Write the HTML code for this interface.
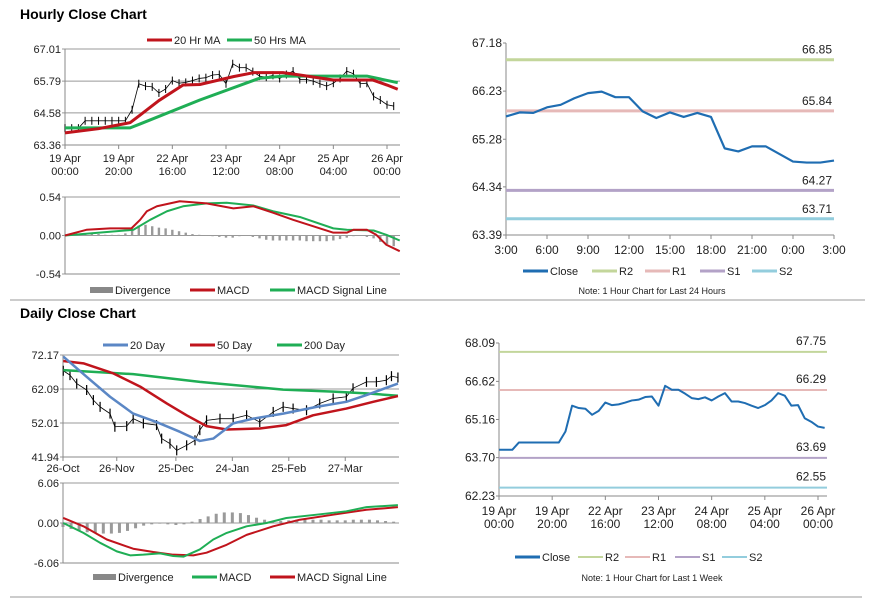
<!DOCTYPE html>
<html><head><meta charset="utf-8"><style>
html,body{margin:0;padding:0;background:#fff;}
svg{display:block;font-family:"Liberation Sans",Arial,sans-serif;}
</style></head><body>
<svg id="s" width="873" height="601" viewBox="0 0 873 601" xmlns="http://www.w3.org/2000/svg">
<text x="20" y="19" font-size="14" font-weight="bold" fill="#000">Hourly Close Chart</text>
<text x="20" y="318" font-size="14" font-weight="bold" fill="#000">Daily Close Chart</text>
<line x1="10" y1="300" x2="865" y2="300" stroke="#999" stroke-width="1"/>
<line x1="10" y1="597" x2="862" y2="597" stroke="#999" stroke-width="1"/>
<g id="root"></g>
</svg>
<script>
// ---------- DATA ----------
// hourly close (sample index, 2.5h steps), shared by hourly bar chart and week chart
const weekClose = [64.00,64.00,64.00,64.28,64.28,64.28,64.28,64.28,64.28,64.28,64.70,65.69,65.60,65.57,65.34,65.49,65.81,65.71,65.74,65.81,65.89,65.92,66.02,66.04,65.69,66.45,66.30,66.30,66.15,65.98,65.94,66.01,65.89,66.04,66.17,65.85,65.85,65.79,65.69,65.60,65.71,65.89,66.17,66.07,65.69,65.71,65.21,65.07,64.89,64.84];
const weekLabels = [["19 Apr","00:00"],["19 Apr","20:00"],["22 Apr","16:00"],["23 Apr","12:00"],["24 Apr","08:00"],["25 Apr","04:00"],["26 Apr","00:00"]];
const weekLabelIdx = [0,8,16,24,32,40,48];
const ma20X = [0,5,9.7,11.2,14,17.6,20.1,25.1,28.1,32.5,35,40,45.9,48,49.6];
const ma20V = [63.82,63.98,64.21,64.50,65.05,65.64,65.66,65.96,66.11,66.11,66.02,65.83,65.83,65.64,65.48];
const ma50X = [0,9.7,11.2,20.1,29,32.5,45,49.6];
const ma50V = [64.01,64.01,64.16,65.07,65.90,65.98,65.98,65.73];
const hTicks = ["63.36","64.58","65.79","67.01"];
const hMacdX = [0,3.2,6.7,9.9,11.2,12.2,13.7,17.1,21.1,25.1,28.1,31,34,40,42,43,45,46.4,47.9,49.9];
const hMacdV = [0,0.08,0.10,0.10,0.22,0.34,0.41,0.48,0.45,0.38,0.41,0.32,0.22,0.04,0.04,0.08,0.08,0.01,-0.13,-0.22];
const hSigX = [0,10.2,12.7,15.2,17.6,21.1,24.1,28.1,31,35,40,42,46,47.9,49.9];
const hSigV = [0,0.08,0.22,0.34,0.41,0.45,0.46,0.42,0.34,0.26,0.10,0.08,0.07,0.01,-0.07];
const hDiv = [0.01,0.01,0.02,0.02,0.02,0.02,0.01,0.01,0.01,0.03,0.10,0.14,0.15,0.13,0.11,0.10,0.08,0.06,0.04,0.02,0.01,0,-0.01,-0.02,-0.03,-0.03,-0.01,0,-0.02,-0.04,-0.06,-0.07,-0.07,-0.07,-0.07,-0.07,-0.08,-0.08,-0.08,-0.08,-0.07,-0.05,-0.03,-0.01,0,-0.02,-0.04,-0.09,-0.12,-0.15];
const hMacdTicks = ["-0.54","0.00","0.54"];
// 24h chart
const dayClose = [65.73,65.81,65.80,65.91,65.96,66.09,66.19,66.22,66.11,66.11,65.83,65.70,65.81,65.72,65.80,65.72,65.10,65.04,65.14,65.14,64.99,64.84,64.82,64.82,64.86];
const dayLabels = ["3:00","6:00","9:00","12:00","15:00","18:00","21:00","0:00","3:00"];
const dayLevels = [66.85,65.84,64.27,63.71];
const dayTicks = ["63.39","64.34","65.28","66.23","67.18"];
const weekLevels = [67.75,66.29,63.69,62.55];
const weekTicks = ["62.23","63.70","65.16","66.62","68.09"];
// daily chart
const dX = [0.1,2.6,5.1,8.8,11.3,13.8,17.5,19.3,23.7,26.1,29.9,34.8,36.7,39.8,42.3,46,49.1,50.9,53.4,58.4,63.3,68.3,73.2,78.2,81.9,85.6,90.6,95.5,100.5,105.4,107.9,112.9,116.6,120.3,122.2,124.6];
const dClose = [67.5,66.2,63.7,61.8,58.8,56.8,54.8,50.9,51.1,53.3,51.9,51.4,47.4,45.9,43.9,45.4,46.9,49.9,52.8,53.3,53.3,54.3,52.3,55.3,56.8,56.3,55.8,57.8,59.3,59.8,62.3,64.2,64.2,64.7,65.9,65.5];
const d20X = [0.1,8.8,17.5,26.1,34.8,43.5,50.9,55.9,63.3,70.7,81.9,94.3,105.4,112.9,124.6];
const d20V = [71.7,65.7,59.8,54.8,52.3,49.4,46.7,47.4,51.9,53.3,54.8,56.8,58.3,60.3,63.7];
const d50X = [0.1,7.6,18.8,28.7,38.6,46,53.4,60.9,73.2,83.1,93,105.4,115.4,124.6];
const d50V = [70.4,69.7,66.7,62.8,57.8,54.3,51.1,50.1,50.4,51.4,54.3,56.3,58.3,60.0];
const d200X = [0.1,26.1,50.9,81.9,100.5,112.9,124.6];
const d200V = [67.7,66.5,64.2,61.9,61.3,60.8,60.1];
const dLabels = ["26-Oct","26-Nov","25-Dec","24-Jan","25-Feb","27-Mar"];
const dLabelIdx = [0,20,42,63,84,105];
const dTicks = ["41.94","52.01","62.09","72.17"];
const dMacdX = [0.1,7.6,13.8,20,25,29.9,36.1,41,44.8,50.9,55.9,60.9,68.3,75.7,83.1,94.3,105.4,112.9,124.6];
const dMacdV = [0,-1.5,-3.0,-4.3,-4.9,-4.8,-4.6,-5.0,-5.1,-4.0,-2.5,-1.5,-0.5,0,0.76,1.26,1.77,2.4,2.7];
const dSigX = [0.1,7.6,16.3,26.1,33.6,41,48.5,53.4,60.9,68.3,78.2,88.1,100.5,112.9,124.6];
const dSigV = [0.76,-0.5,-2.5,-3.9,-4.4,-4.8,-4.9,-4.5,-3.3,-1.8,-0.5,0.5,1.26,2.0,2.4];
const dDiv = [-0.6,-0.9,-1.2,-1.4,-1.5,-1.6,-1.6,-1.5,-1.2,-0.8,-0.4,-0.2,-0.1,-0.2,-0.3,-0.2,0.2,0.6,1.0,1.4,1.6,1.6,1.5,1.2,0.8,0.5,0.3,0.3,0.4,0.5,0.5,0.5,0.5,0.4,0.4,0.4,0.5,0.5,0.5,0.4,0.3,0.2];
const dMacdTicks = ["-6.06","0.00","6.06"];

// ---------- DRAW ----------
const NS="http://www.w3.org/2000/svg";
const root=document.getElementById('root');
function mk(tag,attrs,parent){const e=document.createElementNS(NS,tag);for(const k in attrs)e.setAttribute(k,attrs[k]);(parent||root).appendChild(e);return e;}
function lin(d0,d1,r0,r1){return v=>r0+(v-d0)/(d1-d0)*(r1-r0);}
function txt(x,y,s,anchor,size,name){const t=mk('text',{x:x,y:y,'font-size':size||11,'text-anchor':anchor||'middle',fill:'#222'});t.textContent=s;return t;}
function poly(xs,vs,X,Y,color,w,name){const p=mk('polyline',{points:xs.map((x,i)=>X(x)+','+Y(vs[i])).join(' '),fill:'none',stroke:color,'stroke-width':w,'stroke-linejoin':'round'});return p;}
function frame(x0,x1,yTop,yBot,name){
  mk('line',{x1:x0,y1:yTop,x2:x0,y2:yBot,stroke:'#888'});
  mk('line',{x1:x0,y1:yBot,x2:x1,y2:yBot,stroke:'#888'});
}
function grid(x0,x1,ticks,Y,name,lab){ticks.forEach(t=>{const y=Y(parseFloat(t));const g=mk('line',{x1:x0-3,y1:y,x2:x1,y2:y,stroke:'#999','stroke-width':1});if(lab!==false)txt(x0-4,y+4,t,'end',11,name+'-tick-label');});}
function legendLine(x,y,color,label,w,name,box){
  if(box){const r=mk('rect',{x:x,y:y-3,width:23,height:6,fill:'#888'});}
  else{const l=mk('line',{x1:x,y1:y,x2:x+25,y2:y,stroke:color,'stroke-width':w});}
  txt(x+(box?25:27),y+4,label,'start',11,name);
}

// Chart 1: hourly
(function(){
  const X=lin(0,48,65,387), Y=lin(63.36,67.01,145,49);
  grid(65,400,hTicks,Y,'hourly-price');
  frame(65,400,49,145,'hourly-price');
  weekLabelIdx.forEach((ix,i)=>{const x=X(ix);mk('line',{x1:x,y1:145,x2:x,y2:149,stroke:'#888'});txt(x,162,weekLabels[i][0],'middle',11,'hourly-x-label');txt(x,175,weekLabels[i][1],'middle',11,'hourly-x-label');});
  weekClose.forEach((v,i)=>{
    const b=mk('line',{x1:X(i),y1:Y(v)-4,x2:X(i),y2:Y(v)+4,stroke:'#000','stroke-width':1});
    
    
    if(i<49){const c=mk('polyline',{points:X(i)+','+Y(v)+' '+X(i+1)+','+Y(weekClose[i+1]),stroke:'#000','stroke-width':0.8,fill:'none'});}
  });
  poly(ma50X,ma50V,X,Y,'#1fae55',3,'ma50-line');
  poly(ma20X,ma20V,X,Y,'#c0141c',3,'ma20-line');
  legendLine(147,40,'#c0141c','20 Hr MA',3,'legend-20hr-ma');
  legendLine(227,40,'#1fae55','50 Hrs MA',3,'legend-50hrs-ma');
  const MY=lin(-0.54,0.54,274,197);
  grid(65,400,hMacdTicks,MY,'hourly-macd');
  frame(65,400,197,274,'hourly-macd');
  hDiv.forEach((v,i)=>{const y0=MY(0),y1=MY(v);const r=mk('rect',{x:X(i)-1.2,y:Math.min(y0,y1),width:2.4,height:Math.max(0.5,Math.abs(y1-y0)),fill:'#9a9a9a'});});
  poly(hSigX,hSigV,X,MY,'#1fae55',2,'hourly-signal-line');
  poly(hMacdX,hMacdV,X,MY,'#c0141c',2,'hourly-macd-line');
  legendLine(90,290,'#888','Divergence',3,'legend-hourly-divergence',true);
  legendLine(190,290,'#c0141c','MACD',3,'legend-hourly-macd');
  legendLine(270,290,'#1fae55','MACD Signal Line',3,'legend-hourly-signal');
})();

// Chart 2: last 24h
(function(){
  const X=lin(0,24,506,834), Y=lin(63.39,67.18,235,43);
  frame(506,834,43,235,'day');
  dayTicks.forEach(t=>{const y=Y(parseFloat(t));mk('line',{x1:503,y1:y,x2:506,y2:y,stroke:'#888'});txt(502,y+4,t,'end',12,'day-y-tick-label');});
  dayLabels.forEach((s,i)=>{const x=X(i*3);mk('line',{x1:x,y1:235,x2:x,y2:239,stroke:'#888'});txt(x,254,s,'middle',12,'day-x-label');});
  const cols=['#c3d69b','#e6b9b8','#b3a2c7','#93cddd'];
  dayLevels.forEach((v,i)=>{const y=Y(v);const l=mk('line',{x1:506,y1:y,x2:834,y2:y,stroke:cols[i],'stroke-width':3});txt(832,y-6,v.toFixed(2),'end',12,'day-level-label');});
  poly(dayClose.map((v,i)=>i),dayClose,X,Y,'#1f6db2',2.2,'day-close-line');
  legendLine(523,271,'#1f6db2','Close',3,'legend-day-close');
  legendLine(592,271,cols[0],'R2',3,'legend-day-r2');
  legendLine(645,271,cols[1],'R1',3,'legend-day-r1');
  legendLine(700,271,cols[2],'S1',3,'legend-day-s1');
  legendLine(752,271,cols[3],'S2',3,'legend-day-s2');
  txt(652,294,'Note: 1 Hour Chart for Last 24 Hours','middle',9,'day-note');
})();

// Chart 3: daily
(function(){
  const X=lin(0,125,63,399), Y=lin(41.94,72.17,457,355);
  grid(63,399,dTicks,Y,'daily-price');
  frame(63,399,355,457,'daily-price');
  dLabelIdx.forEach((ix,i)=>{const x=X(ix);mk('line',{x1:x,y1:457,x2:x,y2:461,stroke:'#888'});txt(x,472,dLabels[i],'middle',11,'daily-x-label');});
  dClose.forEach((v,i)=>{
    const b=mk('line',{x1:X(dX[i]),y1:Y(v)-5,x2:X(dX[i]),y2:Y(v)+5,stroke:'#000','stroke-width':1.2});
    
    
  });
  poly(dX,dClose,X,Y,'#000',0.8,'daily-price-path');
  poly(d200X,d200V,X,Y,'#1fae55',2.5,'ma200-line');
  poly(d50X,d50V,X,Y,'#c0141c',2.5,'ma50-day-line');
  poly(d20X,d20V,X,Y,'#5b87c5',2.5,'ma20-day-line');
  legendLine(103,345,'#5b87c5','20 Day',3,'legend-20-day');
  legendLine(190,345,'#c0141c','50 Day',3,'legend-50-day');
  legendLine(277,345,'#1fae55','200 Day',3,'legend-200-day');
  const MY=lin(-6.06,6.06,563,483);
  grid(63,399,dMacdTicks,MY,'daily-macd');
  frame(63,399,483,563,'daily-macd');
  dDiv.forEach((v,i)=>{const y0=MY(0),y1=MY(v);const r=mk('rect',{x:X(i*3)-1.5,y:Math.min(y0,y1),width:3,height:Math.max(0.5,Math.abs(y1-y0)),fill:'#9a9a9a'});});
  poly(dSigX,dSigV,X,MY,'#c0141c',2,'daily-signal-line');
  poly(dMacdX,dMacdV,X,MY,'#1fae55',2,'daily-macd-line');
  legendLine(93,577,'#888','Divergence',3,'legend-daily-divergence',true);
  legendLine(192,577,'#1fae55','MACD',3,'legend-daily-macd');
  legendLine(270,577,'#c0141c','MACD Signal Line',3,'legend-daily-signal');
})();

// Chart 4: last week
(function(){
  const X=lin(0,48,499,818), Y=lin(62.23,68.09,496,343);
  frame(499,827,343,496,'week');
  weekTicks.forEach(t=>{const y=Y(parseFloat(t));mk('line',{x1:496,y1:y,x2:499,y2:y,stroke:'#888'});txt(495,y+4,t,'end',12,'week-y-tick-label');});
  weekLabelIdx.forEach((ix,i)=>{const x=X(ix);mk('line',{x1:x,y1:496,x2:x,y2:500,stroke:'#888'});txt(x,515,weekLabels[i][0],'middle',12,'week-x-label');txt(x,528,weekLabels[i][1],'middle',12,'week-x-label');});
  const cols=['#c3d69b','#e6b9b8','#b3a2c7','#93cddd'];
  weekLevels.forEach((v,i)=>{const y=Y(v);const l=mk('line',{x1:499,y1:y,x2:827,y2:y,stroke:cols[i],'stroke-width':2});txt(826,y-7,v.toFixed(2),'end',12,'week-level-label');});
  poly(weekClose.map((v,i)=>i),weekClose,X,Y,'#1f6db2',2,'week-close-line');
  legendLine(515,557,'#1f6db2','Close',3,'legend-week-close');
  legendLine(578,557,cols[0],'R2',2,'legend-week-r2');
  legendLine(625,557,cols[1],'R1',2,'legend-week-r1');
  legendLine(675,557,cols[2],'S1',2,'legend-week-s1');
  legendLine(722,557,cols[3],'S2',2,'legend-week-s2');
  txt(652,581,'Note: 1 Hour Chart for Last 1 Week','middle',9,'week-note');
})();
</script>
</body></html>
